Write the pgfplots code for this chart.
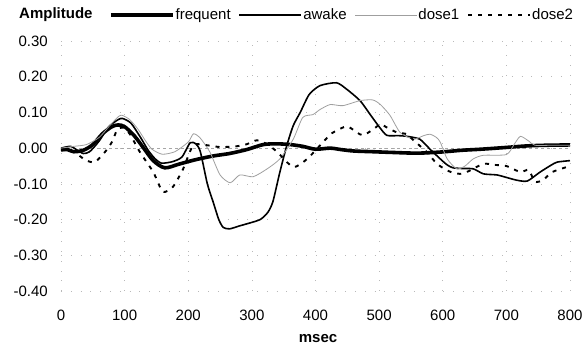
\documentclass[border=0pt]{standalone}
\usepackage{fontspec}
\setmainfont{Liberation Sans}
\usepackage{pgfplots}
\pgfplotsset{compat=1.18}
\begin{document}
\fontsize{15}{18}\selectfont
\begin{tikzpicture}
\begin{axis}[
  at={(0pt,0pt)}, anchor=south west,
  scale only axis, width=509pt, height=250pt,
  xmin=0, xmax=800, ymin=-0.4, ymax=0.3,
  xtick={0,100,...,800},
  ytick={-0.4,-0.3,...,0.31},
  axis line style={draw=none},
  major tick length=0pt,
  grid=major,
  grid style={gray!55, line width=0.5pt, dash pattern=on 0.8pt off 9pt},
  yticklabel style={/pgf/number format/.cd, fixed, fixed zerofill, precision=2, assume math mode=true, /tikz/.cd, xshift=-8pt},
  xticklabel style={/pgf/number format/assume math mode=true, anchor=base, yshift=-30pt},
  scaled y ticks=false,
  xlabel={\bfseries msec},
  every axis x label/.style={at={(axis description cs:0.505,-0.19)}, anchor=center},
  ylabel={\bfseries Amplitude},
  every axis y label/.style={at={(axis description cs:-0.01,1.104)}, anchor=center},
  legend style={draw=none, fill=none, legend columns=4, at={(axis description cs:0.094,1.104)}, anchor=west, inner sep=0pt, nodes={inner sep=1pt},
    /tikz/every even column/.append style={column sep=7pt}},
  legend cell align=left,
  legend image code/.code={\draw[#1] (0pt,0pt) -- (62pt,0pt);},
  clip=false,
]
\draw[gray!70, line width=0.6pt, dash pattern=on 3pt off 3pt] (axis cs:0,0) -- (axis cs:800,0);
\addplot[black, line width=3.6pt, smooth, tension=0.5] coordinates {
(0,-0.005)(10,-0.004)(20,-0.01)(35,-0.006)(50,0.01)(65,0.04)(80,0.06)(90,0.065)(100,0.06)(115,0.035)(130,0.0)(145,-0.035)(163,-0.055)(185,-0.045)(210,-0.033)(239,-0.022)(265,-0.015)(292,-0.004)(318,0.01)(340,0.012)(360,0.01)(380,0.005)(400,-0.003)(423,0.0)(440,-0.004)(460,-0.008)(490,-0.01)(520,-0.012)(560,-0.014)(596,-0.011)(630,-0.006)(660,-0.003)(700,0.002)(730,0.006)(760,0.008)(800,0.009)
};
\addlegendentry{frequent}
\addplot[black, line width=1.6pt, smooth, tension=0.4] coordinates {
(0,0.0)(15,0.005)(25,-0.005)(35,-0.015)(45,-0.01)(60,0.02)(75,0.06)(90,0.08)(97,0.083)(110,0.07)(125,0.03)(137,-0.006)(148,-0.03)(158,-0.042)(175,-0.038)(190,-0.025)(203,0.015)(212,0.012)(219,-0.01)(230,-0.1)(239,-0.15)(248,-0.2)(255,-0.222)(265,-0.226)(280,-0.218)(292,-0.212)(313,-0.2)(325,-0.18)(333,-0.15)(344,-0.067)(355,0.008)(365,0.063)(376,0.1)(390,0.15)(407,0.175)(433,0.183)(449,0.165)(470,0.133)(486,0.094)(500,0.06)(512,0.036)(530,0.035)(544,0.033)(564,0.025)(580,-0.003)(596,-0.03)(607,-0.047)(616,-0.055)(630,-0.057)(648,-0.058)(664,-0.072)(685,-0.075)(700,-0.082)(717,-0.09)(733,-0.092)(753,-0.067)(770,-0.048)(780,-0.039)(800,-0.035)
};
\addlegendentry{awake}
\addplot[gray!75, line width=0.8pt, smooth, tension=0.4] coordinates {
(0,0.0)(20,0.005)(40,0.01)(60,0.03)(75,0.06)(90,0.088)(96,0.092)(108,0.08)(121,0.053)(133,0.02)(143,-0.003)(159,-0.017)(179,-0.01)(200,0.017)(208,0.04)(218,0.03)(234,-0.011)(250,-0.075)(266,-0.097)(281,-0.075)(302,-0.08)(324,-0.058)(344,-0.03)(365,0.025)(380,0.086)(396,0.094)(407,0.108)(423,0.122)(443,0.119)(470,0.133)(490,0.135)(502,0.122)(517,0.092)(533,0.044)(554,0.025)(570,0.035)(580,0.039)(590,0.03)(596,0.017)(607,-0.03)(622,-0.058)(635,-0.05)(648,-0.03)(664,-0.02)(700,-0.018)(712,0.01)(722,0.033)(735,0.02)(745,0.008)(770,0.008)(800,0.008)
};
\addlegendentry{dose1}
\addplot[black, line width=1.9pt, dash pattern=on 4pt off 6pt, smooth, tension=0.4] coordinates {
(0,-0.005)(20,-0.01)(38,-0.033)(53,-0.039)(69,-0.011)(80,0.017)(88,0.05)(97,0.058)(108,0.04)(124,-0.011)(145,-0.067)(160,-0.122)(176,-0.108)(192,-0.058)(208,0.008)(230,0.008)(250,0.003)(275,0.005)(292,0.011)(308,0.022)(325,0.01)(340,-0.011)(365,-0.053)(387,-0.03)(412,0.017)(426,0.042)(449,0.061)(465,0.044)(475,0.036)(491,0.053)(502,0.067)(512,0.058)(528,0.044)(544,0.039)(554,0.022)(575,-0.011)(591,-0.044)(610,-0.065)(627,-0.072)(640,-0.065)(664,-0.044)(682,-0.047)(700,-0.05)(722,-0.067)(735,-0.061)(745,-0.094)(758,-0.089)(772,-0.067)(800,-0.05)
};
\addlegendentry{dose2}
\end{axis}
\pgfresetboundingbox
\path (-61pt,-56pt) rectangle (526pt,291pt);
\end{tikzpicture}
\end{document}
